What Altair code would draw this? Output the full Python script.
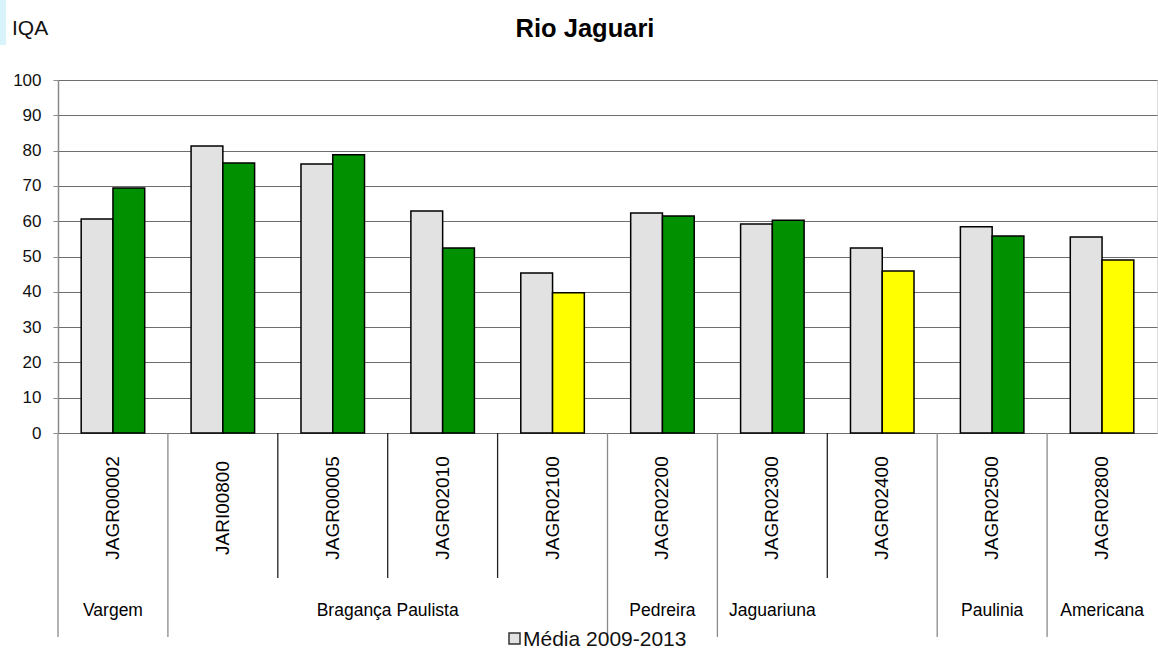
import altair as alt
import pandas as pd

stations = ["JAGR00002", "JARI00800", "JAGR00005", "JAGR02010", "JAGR02100",
            "JAGR02200", "JAGR02300", "JAGR02400", "JAGR02500", "JAGR02800"]
municipios = ["Vargem", "Bragança Paulista", "Bragança Paulista", "Bragança Paulista",
              "Bragança Paulista", "Pedreira", "Jaguariuna", "Jaguariuna",
              "Paulinia", "Americana"]
media_2009_2013 = [60.6, 81.3, 76.2, 62.9, 45.3, 62.3, 59.2, 52.4, 58.4, 55.5]
valor_2014 = [69.4, 76.5, 78.8, 52.4, 39.7, 61.5, 60.3, 45.9, 55.8, 49.0]
classe_2014 = ["Boa", "Boa", "Boa", "Boa", "Regular", "Boa", "Boa", "Regular", "Boa", "Regular"]

# municipality labels anchored on stations (Bragança sits on the boundary before JAGR02010)
muni_labels = ["Vargem", "Pedreira", "Jaguariuna", "Paulinia", "Americana"]
muni_anchor = ["JAGR00002", "JAGR02200", "JAGR02300", "JAGR02500", "JAGR02800"]
muni_boundary_label = ["Bragança Paulista"]
muni_boundary_anchor = ["JAGR02010"]

legend_label = "Média 2009-2013"
title_text = "Rio Jaguari"
y_title = "IQA"
y_ticks = list(range(0, 101, 10))

FONT = "Liberation Sans"
W, H = 1099, 353

rows = []
for s, m, v, c in zip(stations, media_2009_2013, valor_2014, classe_2014):
    rows.append({"station": s, "serie": "a_media", "valor": m, "cls": legend_label})
    rows.append({"station": s, "serie": "b_2014", "valor": v, "cls": c})
bars_df = pd.DataFrame(rows)

# separators: long where the municipality changes, short otherwise
sep_rows = []
for i, s in enumerate(stations):
    long_sep = i == 0 or municipios[i] != municipios[i - 1]
    sep_rows.append({"station": s, "kind": "long" if long_sep else "short"})
sep_df = pd.DataFrame(sep_rows)

xscale = alt.Scale(domain=stations, paddingInner=0, paddingOuter=0)

bars = alt.Chart(bars_df).mark_bar(stroke="black", strokeWidth=1.5).encode(
    x=alt.X("station:N", scale=xscale, axis=None, sort=stations),
    xOffset=alt.XOffset("serie:N", scale=alt.Scale(paddingInner=0, paddingOuter=0.73)),
    y=alt.Y("valor:Q", scale=alt.Scale(domain=[0, 100], nice=False),
            axis=alt.Axis(values=y_ticks, title=None, grid=True, gridColor="#6e6e6e",
                          gridWidth=1.2, domainColor="#8a8a8a", domainWidth=1.5,
                          tickColor="#8a8a8a", tickSize=5, labelFontSize=17,
                          labelPadding=12, labelColor="#111", labelFont=FONT)),
    color=alt.Color("cls:N", scale=alt.Scale(domain=[legend_label, "Boa", "Regular"],
                                             range=["#E2E2E2", "#009000", "#FFFF00"]),
                    legend=None),
)

long_seps = alt.Chart(sep_df).transform_filter(alt.datum.kind == "long").mark_rule(
    color="#8a8a8a", strokeWidth=1.3).encode(
    x=alt.X("station:N", scale=xscale, sort=stations, bandPosition=0, axis=None),
    y=alt.value(H), y2=alt.value(H + 204))

short_seps = alt.Chart(sep_df).transform_filter(alt.datum.kind == "short").mark_rule(
    color="#222", strokeWidth=1.3).encode(
    x=alt.X("station:N", scale=xscale, sort=stations, bandPosition=0, axis=None),
    y=alt.value(H), y2=alt.value(H + 145))

station_labels = alt.Chart(pd.DataFrame({"station": stations})).mark_text(
    angle=270, align="center", baseline="middle", fontSize=19, font=FONT, color="black").encode(
    x=alt.X("station:N", scale=xscale, sort=stations, axis=None),
    y=alt.value(H + 75), text="station:N")

muni_df = pd.DataFrame({"station": muni_anchor, "label": muni_labels})
muni_text = alt.Chart(muni_df).mark_text(
    align="center", baseline="middle", fontSize=17.5, font=FONT, color="black").encode(
    x=alt.X("station:N", scale=xscale, sort=stations, axis=None),
    y=alt.value(H + 178), text="label:N")

muni_b_df = pd.DataFrame({"station": muni_boundary_anchor, "label": muni_boundary_label})
muni_b_text = alt.Chart(muni_b_df).mark_text(
    align="center", baseline="middle", fontSize=17.5, font=FONT, color="black").encode(
    x=alt.X("station:N", scale=xscale, sort=stations, bandPosition=0, axis=None),
    y=alt.value(H + 178), text="label:N")

one = pd.DataFrame({"t": [legend_label]})
legend_box = alt.Chart(one).mark_rect(fill="#E2E2E2", stroke="#333", strokeWidth=1.5).encode(
    x=alt.value(451), x2=alt.value(462), y=alt.value(553), y2=alt.value(564))
legend_text = alt.Chart(one).mark_text(
    align="left", baseline="alphabetic", fontSize=21, font=FONT, color="#111").encode(
    x=alt.value(465), y=alt.value(566), text="t:N")

title = alt.Chart(pd.DataFrame({"t": [title_text]})).mark_text(
    align="center", baseline="alphabetic", fontSize=25.5, fontWeight="bold", font=FONT,
    color="black").encode(x=alt.value(527), y=alt.value(-43), text="t:N")

iqa = alt.Chart(pd.DataFrame({"t": [y_title]})).mark_text(
    align="left", baseline="alphabetic", fontSize=21, font=FONT, color="#111").encode(
    x=alt.value(-46), y=alt.value(-45), text="t:N")

stripe = alt.Chart(one).mark_rect(fill="#d8f4fa").encode(
    x=alt.value(-58), x2=alt.value(-52), y=alt.value(-80), y2=alt.value(-35))

chart = alt.layer(bars, long_seps, short_seps, station_labels, muni_text, muni_b_text,
                  legend_box, legend_text, title, iqa, stripe).properties(
    width=W, height=H,
    autosize=alt.AutoSizeParams(type="none"),
    padding={"left": 58, "top": 80, "right": 1, "bottom": 219},
).configure_view(stroke=None).configure(font=FONT)

chart.save("out.html", embed_options={"renderer": "svg", "actions": False})
